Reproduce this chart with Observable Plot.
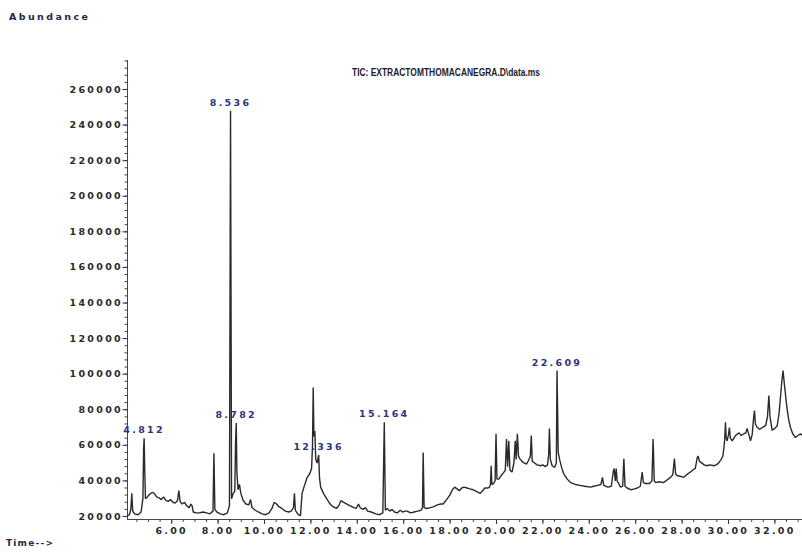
<!DOCTYPE html>
<html><head><meta charset="utf-8">
<style>
body{margin:0;background:#fff}
svg text{letter-spacing:2.3px}
svg text.title{letter-spacing:0}
</style>
<script src="https://cdn.jsdelivr.net/npm/d3@7"></script>
<script src="https://cdn.jsdelivr.net/npm/@observablehq/plot@0.6"></script>
</head><body><div id="chart"></div>
<script>
// Total ion chromatogram: [retention time (min), abundance]
const tic = [
[4.095,20500],[4.18,21000],[4.24,24000],[4.28,33000],[4.32,23000],[4.40,21500],[4.55,21000],[4.68,22500],
[4.76,30000],[4.79,58000],[4.812,64000],[4.84,45000],[4.87,30000],[4.95,31000],[5.05,32500],[5.15,33500],
[5.25,33000],[5.35,31000],[5.45,30500],[5.55,29500],[5.65,31000],[5.75,29000],[5.85,28500],[5.95,29500],
[6.05,28000],[6.15,27500],[6.25,29000],[6.31,34500],[6.36,28500],[6.45,27000],[6.55,28000],[6.65,26000],
[6.75,25000],[6.83,27000],[6.88,26000],[6.93,22500],[7.05,22000],[7.2,22000],[7.35,22500],[7.5,22000],
[7.65,21500],[7.78,23000],[7.82,55500],[7.86,24000],[7.95,22500],[8.1,21500],[8.25,21000],[8.4,22000],
[8.49,26000],[8.536,248000],[8.58,30000],[8.65,33000],[8.72,34000],[8.75,60000],[8.782,72500],[8.81,45000],
[8.86,35000],[8.92,38000],[8.98,33000],[9.08,29000],[9.2,27000],[9.32,26500],[9.4,29500],[9.46,25000],
[9.6,23500],[9.75,22500],[9.9,21500],[10.05,21000],[10.2,22000],[10.32,24500],[10.42,28000],[10.52,27000],
[10.62,25500],[10.75,24500],[10.9,23000],[11.05,22500],[11.15,23000],[11.25,25000],[11.29,33000],[11.33,23500],
[11.45,21000],[11.55,20500],[11.62,33000],[11.7,36500],[11.84,42000],[11.95,44000],[12.03,47000],[12.07,60000],
[12.1,92500],[12.13,65000],[12.17,68000],[12.21,52000],[12.27,50000],[12.31,53000],[12.336,54500],[12.37,42000],
[12.42,36500],[12.54,33000],[12.68,30000],[12.83,27000],[12.95,25500],[13.1,24500],[13.2,26000],[13.3,29000],
[13.4,28000],[13.55,27000],[13.7,26000],[13.85,25000],[13.95,24500],[14.05,27000],[14.12,25000],[14.25,24000],
[14.35,25000],[14.45,23000],[14.6,22500],[14.8,21500],[14.95,21000],[15.1,22000],[15.164,73000],[15.21,23500],
[15.29,24500],[15.4,23000],[15.5,24000],[15.6,22500],[15.72,22000],[15.85,23500],[15.95,22500],[16.05,23000],
[16.15,23000],[16.3,22000],[16.45,22500],[16.6,23000],[16.75,23500],[16.81,25000],[16.84,56000],[16.88,25000],
[17.0,24500],[17.15,25000],[17.3,25500],[17.45,26500],[17.6,27000],[17.7,27000],[17.85,29500],[17.99,32000],
[18.1,35000],[18.2,36500],[18.3,35500],[18.4,34500],[18.5,36000],[18.6,36500],[18.73,36000],[18.85,35500],
[19.0,35000],[19.15,34000],[19.3,33000],[19.4,34500],[19.5,36000],[19.62,36000],[19.7,36500],[19.74,38000],
[19.77,48500],[19.8,38000],[19.87,38500],[19.94,40000],[19.98,66500],[20.02,41000],[20.1,41000],[20.2,43000],
[20.3,44500],[20.38,46000],[20.43,63500],[20.48,48000],[20.53,62500],[20.58,46000],[20.67,45000],[20.75,50000],
[20.81,62500],[20.85,52000],[20.9,66500],[20.95,54000],[21.0,52500],[21.1,51000],[21.2,50000],[21.3,49500],
[21.4,52000],[21.46,54000],[21.5,65500],[21.54,51000],[21.6,50500],[21.75,49000],[21.9,48500],[22.0,49000],
[22.1,48000],[22.2,49000],[22.25,55000],[22.28,69500],[22.32,52000],[22.4,48500],[22.5,47500],[22.58,50000],
[22.609,102000],[22.66,56000],[22.73,51500],[22.82,47000],[22.9,44000],[23.05,41000],[23.2,39000],[23.4,38000],
[23.6,37500],[23.8,37000],[24.05,36500],[24.2,37000],[24.35,37500],[24.5,38000],[24.57,42000],[24.62,37500],
[24.8,36500],[24.95,37000],[25.03,45000],[25.07,47000],[25.12,40000],[25.16,47000],[25.2,40000],[25.35,36500],
[25.44,37000],[25.49,52500],[25.54,37000],[25.63,36000],[25.8,35000],[25.95,35500],[26.07,36000],[26.2,37000],
[26.28,45000],[26.33,39000],[26.42,38500],[26.6,38500],[26.7,40000],[26.75,63500],[26.8,40000],[26.86,39000],
[27.0,39500],[27.2,39000],[27.35,40500],[27.5,42000],[27.6,43500],[27.67,52500],[27.72,44000],[27.78,43000],
[27.95,42500],[28.07,42000],[28.2,43500],[28.36,45000],[28.5,46500],[28.57,47000],[28.65,53000],[28.69,54000],
[28.75,51000],[28.86,50000],[28.95,49000],[29.07,48500],[29.2,49000],[29.36,48500],[29.47,49000],[29.57,50000],
[29.68,52000],[29.76,54000],[29.83,62000],[29.87,73000],[29.9,64000],[29.94,62500],[30.0,66000],[30.04,70000],
[30.08,64000],[30.16,62500],[30.3,65500],[30.45,67000],[30.55,65500],[30.66,66500],[30.75,67000],[30.8,69500],
[30.9,65000],[30.95,62500],[31.02,66000],[31.08,75000],[31.12,79500],[31.16,72000],[31.24,70000],[31.35,69000],
[31.45,70000],[31.6,71000],[31.68,76000],[31.74,88000],[31.79,76000],[31.88,68500],[32.0,69500],[32.1,71000],
[32.18,78000],[32.24,87000],[32.3,96000],[32.35,102000],[32.42,93000],[32.52,81000],[32.6,74000],[32.67,70000],
[32.77,66500],[32.88,64500],[33.0,65500],[33.1,66500],[33.19,65500]
];
const peakTimes   = [4.812, 8.536, 8.782, 12.336, 15.164, 22.609];
const peakHeights = [64000, 248000, 72500, 54500, 73000, 102000];
const peakLabels  = ["4.812", "8.536", "8.782", "12.336", "15.164", "22.609"];
const yTicks = [20000,40000,60000,80000,100000,120000,140000,160000,180000,200000,220000,240000,260000];
const xTicks = [6,8,10,12,14,16,18,20,22,24,26,28,30,32];
const xDomain = [4.095, 33.19];
const yDomain = [18300, 276300];
const titleText = "TIC: EXTRACTOMTHOMACANEGRA.D\\data.ms";

const peaks = peakTimes.map((t,i)=>({t, v: peakHeights[i], label: peakLabels[i]}));
const yMinor = d3.range(20000, 276001, 4000);
const xMinor = d3.range(4.5, 33.1, 0.5);
const font = "DejaVu Sans, sans-serif";

const chart = Plot.plot({
  width: 802, height: 553,
  marginLeft: 127, marginRight: 0, marginTop: 60, marginBottom: 34,
  style: {fontFamily: font, background: "#fff", overflow: "visible"},
  x: {domain: xDomain, axis: null},
  y: {domain: yDomain, axis: null},
  marks: [
    Plot.axisY(yMinor, {anchor: "left", label: null, tickSize: 2.5, tickFormat: () => "", stroke: "#444"}),
    Plot.axisX(xMinor, {anchor: "bottom", label: null, tickSize: 3, tickFormat: () => "", stroke: "#444"}),
    Plot.axisY(yTicks, {anchor: "left", label: null, tickSize: 4.5, tickPadding: 0, tickFormat: d => String(d),
      fontSize: 9.5, fontWeight: "bold", fill: "#2a2a2a", stroke: "#333"}),
    Plot.axisX(xTicks, {anchor: "bottom", label: null, tickSize: 5, tickPadding: 3, tickFormat: d => d.toFixed(2),
      fontSize: 9.5, fontWeight: "bold", fill: "#2a2a2a", stroke: "#333"}),
    Plot.ruleX([xDomain[0]], {stroke: "#444", strokeWidth: 1}),
    Plot.ruleY([yDomain[0]], {stroke: "#444", strokeWidth: 1}),
    Plot.line(tic, {x: d => d[0], y: d => d[1], stroke: "#2a2a2a", strokeWidth: 1.4, strokeLinejoin: "miter"}),
    Plot.text(peaks, {x: "t", y: "v", text: "label", dy: -8, lineAnchor: "middle",
      fill: "#2c3480", fontSize: 9.5, fontWeight: "bold", fontFamily: font})
  ]
});
document.getElementById("chart").appendChild(chart);

const svg = d3.select(chart);
svg.append("text").attr("x", 9).attr("y", 17).attr("text-anchor","start").attr("dominant-baseline","middle")
  .attr("font-family", font).attr("font-size", 9.5).attr("font-weight","bold").attr("fill","#25264a")
  .style("letter-spacing","2.4px").text("Abundance");
svg.append("text").attr("x", 6).attr("y", 543).attr("text-anchor","start").attr("dominant-baseline","middle")
  .attr("font-family", font).attr("font-size", 9).attr("font-weight","bold").attr("fill","#25264a")
  .style("letter-spacing","1.2px").text("Time-->");
svg.append("text").attr("class","title").attr("x", 352).attr("y", 73).attr("text-anchor","start").attr("dominant-baseline","middle")
  .attr("font-family", "Liberation Sans, Arial, sans-serif").attr("font-size", 11.5).attr("font-weight","bold")
  .attr("fill","#1c1c2c").attr("textLength", 188).attr("lengthAdjust","spacingAndGlyphs").text(titleText);
</script>
</body></html>
